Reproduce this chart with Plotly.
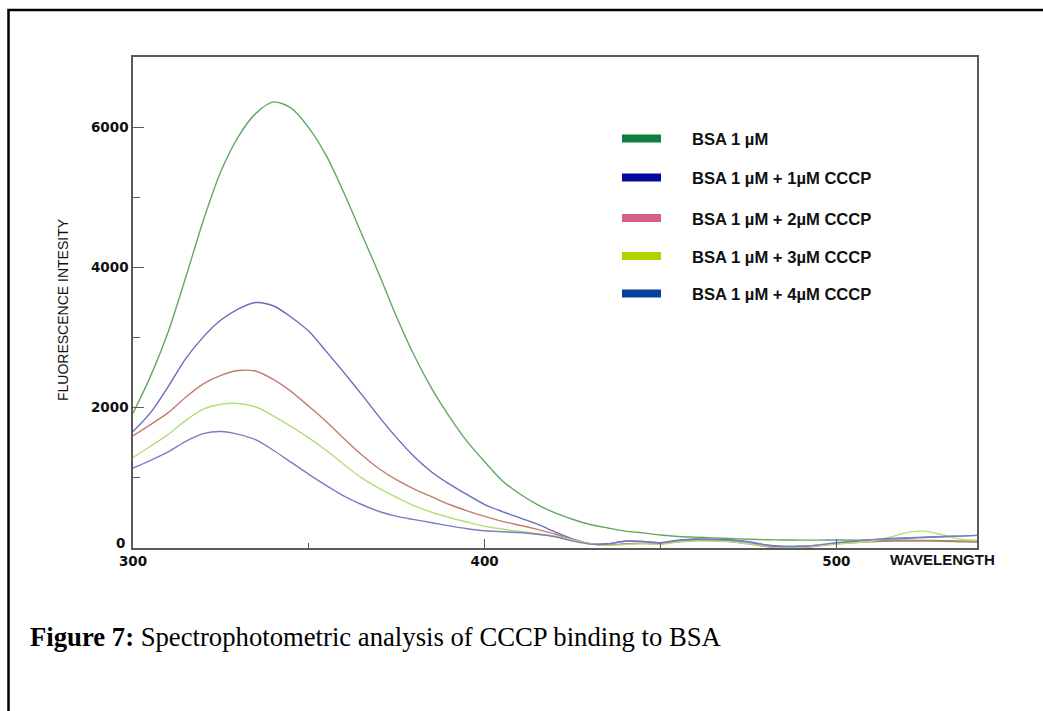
import plotly.graph_objects as go

# Emission wavelengths (nm), 5 nm steps
wavelength = list(range(300, 545, 5))

bsa_only = [1920, 2450, 3080, 3860, 4670, 5370, 5870, 6200, 6360, 6270,
            5990, 5590, 5060, 4480, 3900, 3290, 2740, 2270, 1870, 1520,
            1230, 960, 770, 620, 500, 410, 335, 285, 240, 215,
            185, 165, 155, 145, 135, 125, 118, 115, 112, 112,
            115, 112, 110, 112, 110, 108, 105, 100, 95]

bsa_cccp_1 = [1660, 1930, 2300, 2700, 3010, 3250, 3410, 3500, 3450, 3290,
              3090, 2800, 2500, 2190, 1870, 1570, 1300, 1080, 910, 760,
              620, 520, 430, 340, 230, 130, 60, 60, 100, 95,
              75, 110, 130, 125, 115, 90, 45, 25, 25, 40,
              70, 95, 115, 130, 140, 150, 160, 170, 180]

bsa_cccp_2 = [1600, 1760, 1930, 2150, 2340, 2460, 2530, 2520, 2400, 2230,
              2020, 1800, 1560, 1330, 1130, 970, 840, 730, 620, 530,
              450, 380, 325, 265, 200, 120, 60, 40, 60, 70,
              60, 90, 110, 105, 90, 60, 20, 0, 5, 30,
              60, 75, 90, 95, 100, 100, 95, 90, 85]

bsa_cccp_3 = [1290, 1450, 1620, 1820, 1980, 2050, 2060, 2010, 1880, 1730,
              1570, 1390, 1190, 1000, 850, 720, 600, 510, 435, 370,
              310, 270, 235, 205, 170, 115, 60, 35, 50, 60,
              55, 85, 100, 100, 90, 60, 25, 10, 10, 35,
              60, 75, 100, 150, 220, 240, 190, 130, 110]

bsa_cccp_4 = [1140, 1250, 1370, 1520, 1630, 1660, 1620, 1540, 1390, 1220,
              1050, 890, 740, 620, 520, 450, 405, 360, 315, 275,
              245, 232, 220, 195, 160, 100, 55, 55, 95, 90,
              70, 105, 125, 120, 110, 85, 40, 20, 25, 45,
              75, 100, 120, 135, 145, 155, 165, 170, 180]

series_labels = ["BSA 1 µM", "BSA 1 µM + 1µM CCCP", "BSA 1 µM + 2µM CCCP",
                 "BSA 1 µM + 3µM CCCP", "BSA 1 µM + 4µM CCCP"]
series_values = [bsa_only, bsa_cccp_1, bsa_cccp_2, bsa_cccp_3, bsa_cccp_4]
line_colors = ["#62a862", "#6a6db6", "#c27d6c", "#b2df78", "#7c7cc8"]
key_colors = ["#0e7f3e", "#05089c", "#d4608a", "#aad500", "#0840a0"]

x_ticks = [300, 400, 500]
y_ticks = [0, 2000, 4000, 6000]

W, H = 1043, 711
PL, PR, PT, PB = 133, 977, 57, 548  # plot area edges in pixels


def px(x):
    return (x - PL) / (PR - PL)


def py(y):
    return (PB - y) / (PB - PT)


fig = go.Figure()
for name, vals, col in zip(series_labels, series_values, line_colors):
    fig.add_trace(go.Scatter(
        x=wavelength, y=vals, mode="lines", name=name,
        line=dict(color=col, width=1.4, shape="spline", smoothing=0.8),
        showlegend=False,
    ))

axis_col = "#5a5a5a"
tick_font = dict(family="DejaVu Sans", size=13.5, color="#111", weight="bold")

fig.update_xaxes(
    range=[300, 540], tickvals=x_ticks, ticktext=[str(v) for v in x_ticks],
    ticks="inside", ticklen=9, tickwidth=1.3, tickcolor=axis_col,
    minor=dict(dtick=50, ticks="inside", ticklen=5, tickwidth=1.3, tickcolor=axis_col),
    showline=True, linecolor=axis_col, linewidth=1.5, mirror=True,
    showgrid=False, zeroline=False, tickfont=tick_font,
)
# the zero label sits a little above the baseline, drawn separately below
fig.update_yaxes(
    range=[0, 7000], tickvals=y_ticks,
    ticktext=["" if v == 0 else str(v) for v in y_ticks],
    ticks="inside", ticklen=11, tickwidth=1.3, tickcolor=axis_col,
    minor=dict(dtick=1000, ticks="inside", ticklen=7, tickwidth=1.3, tickcolor=axis_col),
    showline=True, linecolor=axis_col, linewidth=1.5, mirror=True,
    showgrid=False, zeroline=False, tickfont=tick_font,
)

shapes = []
annotations = []

# Outer figure frame (left and top edges visible)
shapes.append(dict(type="rect", xref="paper", yref="paper",
                   x0=px(8.5), x1=px(1060), y0=py(730), y1=py(10),
                   line=dict(color="black", width=2.5), layer="above"))

# Key: colour bars with labels
row_y = [138.5, 177.5, 218, 256, 293.5]
for lab, col, yc in zip(series_labels, key_colors, row_y):
    shapes.append(dict(type="rect", xref="paper", yref="paper",
                       x0=px(622), x1=px(661), y0=py(yc + 4), y1=py(yc - 4),
                       fillcolor=col, line=dict(width=0)))
    annotations.append(dict(x=px(690), y=py(yc + 1), xref="paper", yref="paper",
                            text=lab, showarrow=False, xanchor="left", yanchor="middle",
                            font=dict(family="Liberation Sans", size=16.6, color="#111",
                                      weight="bold")))

annotations.append(dict(x=0, y=py(542.5), xref="paper", yref="paper",
                        text=str(y_ticks[0]), showarrow=False,
                        xanchor="right", yanchor="middle", xshift=-6,
                        font=tick_font))

annotations.append(dict(x=px(942.5), y=py(559), xref="paper", yref="paper",
                        text="WAVELENGTH", showarrow=False,
                        xanchor="center", yanchor="middle",
                        font=dict(family="Liberation Sans", size=15, color="#111",
                                  weight="bold")))

annotations.append(dict(x=px(63), y=py(310), xref="paper", yref="paper",
                        text="FLUORESCENCE INTESITY", showarrow=False, textangle=-90,
                        xanchor="center", yanchor="middle",
                        font=dict(family="Liberation Sans", size=14, color="#111")))

annotations.append(dict(x=px(28), y=py(637), xref="paper", yref="paper",
                        text="<b>Figure 7:</b> Spectrophotometric analysis of CCCP binding to BSA",
                        showarrow=False, xanchor="left", yanchor="middle",
                        font=dict(family="Liberation Serif", size=26.7, color="black")))

fig.update_layout(
    width=W, height=H,
    margin=dict(l=PL, r=W - PR, t=PT, b=H - PB),
    paper_bgcolor="white", plot_bgcolor="white",
    shapes=shapes, annotations=annotations,
    showlegend=False,
)

fig.write_html("out.html")
